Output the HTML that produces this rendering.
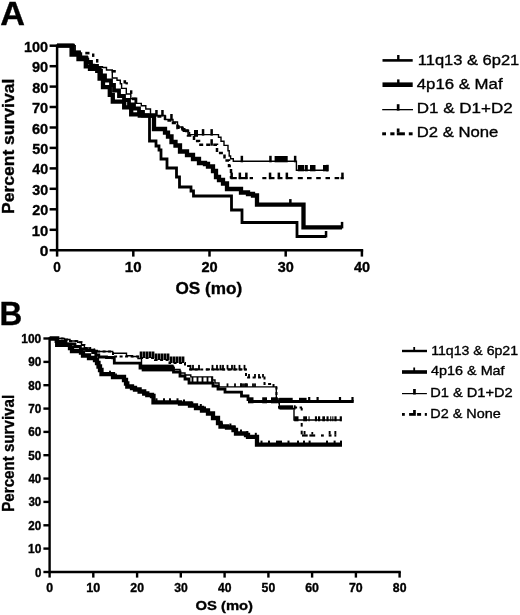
<!DOCTYPE html>
<html><head><meta charset="utf-8"><style>
html,body{margin:0;padding:0;background:#fff;}
svg{display:block;will-change:transform;}
text{font-family:"Liberation Sans",sans-serif;fill:#000;stroke:#000;stroke-width:0.35px;}
</style></head><body>
<svg width="520" height="615" viewBox="0 0 520 615">
<rect width="520" height="615" fill="#fff"/>
<g stroke="#000" stroke-width="2.5" fill="none" stroke-linecap="butt">
<path d="M57.1 44.5 V250.2 H363.2"/>
<path d="M49.6 250.2 H57.1"/><path d="M49.6 229.8 H57.1"/><path d="M49.6 209.3 H57.1"/><path d="M49.6 188.8 H57.1"/><path d="M49.6 168.4 H57.1"/><path d="M49.6 147.9 H57.1"/><path d="M49.6 127.5 H57.1"/><path d="M49.6 107.0 H57.1"/><path d="M49.6 86.6 H57.1"/><path d="M49.6 66.2 H57.1"/><path d="M49.6 45.7 H57.1"/>
<path d="M57.1 250.2 V256.6"/><path d="M133.3 250.2 V256.6"/><path d="M209.5 250.2 V256.6"/><path d="M285.7 250.2 V256.6"/><path d="M361.9 250.2 V256.6"/>
</g>
<path d="M150.4 116.5 H165.0 V120.5 H173.0 V123.0 H177.5 V128.0 H182.5 V131.0 H188.0 V135.6 H194.0 V141.0 H199.0 V144.7 H217.0 V153.0 H224.5 V160.5 H229.0 V166.0 H231.0 V178.4" fill="none" stroke="#000" stroke-width="2.5" stroke-dasharray="4 3"/>
<path d="M57.0 45.7 H75.2 V51.5 H80.0 V53.0 H81.5 V57.0 H87.8 V58.5 H88.5 V63.0 H91.5 V64.5 H94.5 V66.8 H102.5 V67.5 H106.5 V70.0 H112.3 V78.0 H117.0 V80.3 H120.3 V83.7 H121.6 V88.4 H126.3 V94.0 H130.8 V98.7 H135.3 V103.4 H141.3 V105.7 H145.8 V109.0 H150.5 V115.5 H165.0 V119.5 H173.0 V122.0 H177.5 V127.0 H182.5 V130.0 H188.0 V134.6 H218.5 V137.3 H221.0 V141.3 H224.0 V145.4 H228.0 V150.8 H229.2 V156.0 H230.6 V158.8 H233.3 V161.3 H296.4 V170.3 H328.0 V170.3" fill="none" stroke="#000" stroke-width="1.4"/>
<path d="M143.0 115.5 H149.5 V141.0 H156.0 V146.0 H159.0 V150.0 H161.0 V159.0 H167.0 V168.0 H176.5 V177.0 H179.5 V187.0 H191.0 V191.0 H193.5 V196.0 H231.5 V210.0 H242.0 V222.5 H297.0 V236.5 H326.0 V236.5" fill="none" stroke="#000" stroke-width="2.8"/>
<path d="M57.0 45.7 H73.0 V52.5 H79.0 V57.5 H86.0 V62.0 H91.0 V66.0 H97.0 V71.0 H101.0 V75.5 H105.0 V80.5 H111.0 V85.0 H114.0 V90.5 H119.0 V96.0 H124.0 V100.0 H129.0 V104.5 H134.0 V108.5 H139.0 V112.0 H143.0 V115.5 H149.5 V115.5" fill="none" stroke="#000" stroke-width="3.8"/>
<path d="M57.0 45.7 H71.6 V54.5 H78.5 V59.1 H85.8 V66.4 H90.0 V68.9 H99.6 V78.6 H103.0 V87.2 H109.8 V94.8 H112.8 V101.6 H124.2 V107.4 H131.2 V114.3 H139.8 V115.5 H154.0 V129.0 H165.0 V132.7 H168.0 V136.5 H171.5 V142.0 H175.5 V145.5 H180.0 V151.5 H187.0 V155.0 H193.0 V159.0 H199.0 V163.0 H205.0 V164.0 H208.0 V166.5 H213.0 V171.0 H216.0 V177.0 H219.0 V180.0 H223.0 V183.5 H227.0 V189.0 H241.0 V192.5 H248.0 V194.0 H253.0 V195.5 H257.0 V204.6 H303.5 V227.4 H342.0 V227.4" fill="none" stroke="#000" stroke-width="4.3"/>
<g fill="#000">
<rect x="324.8" y="231.0" width="2.5" height="6.5"/>
<rect x="340.8" y="221.9" width="2.5" height="6.5"/>
<rect x="289.1" y="199.1" width="2.5" height="6.5"/>
<rect x="341.2" y="172.6" width="2.5" height="6.5"/>
<rect x="230.4" y="172.6" width="2.5" height="6.5"/>
<rect x="238.6" y="172.6" width="2.5" height="6.5"/>
<rect x="245.1" y="172.6" width="2.5" height="6.5"/>
<rect x="268.8" y="172.6" width="2.5" height="6.5"/>
<rect x="277.6" y="172.6" width="2.5" height="6.5"/>
<rect x="285.6" y="172.6" width="2.5" height="6.5"/>
<rect x="240.6" y="155.8" width="2.5" height="6.5"/>
<rect x="269.2" y="155.8" width="2.5" height="6.5"/>
<rect x="293.9" y="155.8" width="2.5" height="6.5"/>
<rect x="326.2" y="164.8" width="2.5" height="6.5"/>
<rect x="210.4" y="139.2" width="2.5" height="6.5"/>
<rect x="201.8" y="129.1" width="2.5" height="6.5"/>
<rect x="210.4" y="129.1" width="2.5" height="6.5"/>
<rect x="155.2" y="110.0" width="2.5" height="6.5"/>
<rect x="161.2" y="110.0" width="2.5" height="6.5"/>
<rect x="170.2" y="114.0" width="2.5" height="6.5"/>
<rect x="134.8" y="97.5" width="2.5" height="6.5"/>
<rect x="85.3" y="51.8" width="4.2" height="2.6"/>
<rect x="92.0" y="53.5" width="2.4" height="3.4"/>
<rect x="96.0" y="59.0" width="2.4" height="3.6"/>
<rect x="111.6" y="70.0" width="4.2" height="2.6"/>
<rect x="123.5" y="80.2" width="2.6" height="3.4"/>
<rect x="125.5" y="82.2" width="2.4" height="2.2"/>
<rect x="130.0" y="90.3" width="2.4" height="3.6"/>
<rect x="132.0" y="97.4" width="3.4" height="2.8"/>
<rect x="274.6" y="156.0" width="13.1" height="6.3"/>
<rect x="297.8" y="165.0" width="6.5" height="6.3"/>
<rect x="305.0" y="165.0" width="2.8" height="6.3"/>
<rect x="310.0" y="165.0" width="5.5" height="6.3"/>
<rect x="323.0" y="165.0" width="5.2" height="6.3"/>
<rect x="177.8" y="125.2" width="1.9" height="3.8"/>
<rect x="182.6" y="128.0" width="2.9" height="4.0"/>
<rect x="188.4" y="132.0" width="1.9" height="3.8"/>
<rect x="194.0" y="130.0" width="4.0" height="6.8"/>
<rect x="230.7" y="177.0" width="6.1" height="2.2"/>
<rect x="238.8" y="177.0" width="8.7" height="2.2"/>
<rect x="249.6" y="177.0" width="3.4" height="2.2"/>
<rect x="262.3" y="177.0" width="4.1" height="2.2"/>
<rect x="269.0" y="177.0" width="5.5" height="2.2"/>
<rect x="277.8" y="177.0" width="4.7" height="2.2"/>
<rect x="285.9" y="177.0" width="6.7" height="2.2"/>
<rect x="297.8" y="177.0" width="5.0" height="2.2"/>
<rect x="307.0" y="177.0" width="4.6" height="2.2"/>
<rect x="316.2" y="177.0" width="4.6" height="2.2"/>
<rect x="325.5" y="177.0" width="4.5" height="2.2"/>
<rect x="334.6" y="177.0" width="4.6" height="2.2"/>
<rect x="340.5" y="177.0" width="3.0" height="2.2"/>
</g>
<g fill="#000">
<rect x="382.5" y="59.1" width="30.2" height="2.6"/><rect x="397.1" y="55" width="2.4" height="5.5"/>
<rect x="382.5" y="82.4" width="30.2" height="4.6"/><rect x="397.1" y="79.4" width="2.4" height="5"/>
<rect x="382.2" y="109.0" width="30.8" height="1.3"/><rect x="396.8" y="104.2" width="2.7" height="6.4"/>
<rect x="382.2" y="132.3" width="3.8" height="3.0"/><rect x="390.3" y="132.3" width="4.2" height="3.0"/><rect x="396.8" y="132.3" width="8.1" height="3.0"/><rect x="396.8" y="128.5" width="2.7" height="4"/><rect x="408.8" y="132.3" width="3.8" height="3.0"/>
</g>
<g stroke="#000" stroke-width="2.4" fill="none">
<path d="M49.6 337.3 V572 H400.8"/>
<path d="M43.4 572.0 H49.6"/><path d="M43.4 548.6 H49.6"/><path d="M43.4 525.3 H49.6"/><path d="M43.4 501.9 H49.6"/><path d="M43.4 478.6 H49.6"/><path d="M43.4 455.2 H49.6"/><path d="M43.4 431.9 H49.6"/><path d="M43.4 408.6 H49.6"/><path d="M43.4 385.2 H49.6"/><path d="M43.4 361.9 H49.6"/><path d="M43.4 338.5 H49.6"/>
<path d="M49.6 572 V577.6"/><path d="M93.3 572 V577.6"/><path d="M137.1 572 V577.6"/><path d="M180.8 572 V577.6"/><path d="M224.6 572 V577.6"/><path d="M268.4 572 V577.6"/><path d="M312.1 572 V577.6"/><path d="M355.9 572 V577.6"/><path d="M399.6 572 V577.6"/>
</g>
<path d="M49.6 338.5 H64.5 V339.5 H70.0 V341.0 H77.7 V342.2 H81.5 V345.0 H84.4 V348.0 H90.2 V349.5 H94.2 V350.5 H97.3 V351.5 H113.0 V356.5 H141.0 V358.0 H155.0 V360.0 H169.5 V363.0 H185.0 V366.0 H190.0 V369.4 H246.0 V377.5 H264.5 V384.0 H273.5 V387.5 H276.5 V400.0 H279.0 V407.5 H302.0 V407.5" fill="none" stroke="#000" stroke-width="2.0" stroke-dasharray="3 2.5"/>
<path d="M49.6 338.5 H64.5 V339.5 H70.0 V341.0 H77.7 V342.2 H81.5 V345.0 H84.4 V348.0 H90.2 V349.5 H94.2 V350.5 H97.3 V351.5 H112.7 V353.3 H126.5 V355.8 H132.3 V356.5 H138.0 V358.5 H141.5 V366.3 H173.5 V369.5 H180.0 V373.0 H185.0 V375.0 H190.8 V376.9 H212.5 V380.0 H215.0 V383.0 H219.0 V386.9 H276.3 V399.0 H279.3 V408.5 H294.0 V420.0 H341.0 V420.0" fill="none" stroke="#000" stroke-width="1.4"/>
<path d="M49.6 338.5 H56.0 V341.5 H66.0 V344.0 H75.0 V346.5 H80.4 V349.0 H86.5 V350.5 H92.7 V352.5 H95.8 V355.0 H98.8 V357.0 H106.5 V357.5 H112.7 V357.8 H114.3 V363.2 H140.0 V368.2 H173.5 V372.0 H180.0 V376.0 H185.0 V379.0 H189.0 V383.0 H213.0 V386.0 H218.0 V389.0 H225.0 V392.2 H241.5 V396.0 H248.0 V399.5 H251.0 V401.5 H353.7 V401.5" fill="none" stroke="#000" stroke-width="2.8"/>
<path d="M49.6 338.5 H57.2 V344.9 H70.0 V348.0 H72.0 V351.0 H81.0 V352.5 H83.0 V355.5 H89.0 V358.0 H95.0 V360.0 H97.0 V363.0 H98.5 V366.5 H100.0 V370.0 H101.5 V374.2 H113.0 V377.0 H124.0 V380.0 H126.0 V383.5 H127.3 V386.5 H132.0 V388.0 H135.0 V389.5 H139.6 V391.5 H144.2 V393.5 H147.3 V395.0 H152.0 V396.0 H153.5 V402.3 H180.0 V403.5 H190.0 V405.5 H196.0 V408.0 H202.0 V410.5 H208.0 V413.5 H213.0 V418.0 H218.0 V423.0 H220.5 V426.5 H227.0 V427.5 H233.5 V430.0 H236.0 V433.5 H246.0 V435.0 H248.0 V436.8 H257.0 V444.6 H342.0 V444.6" fill="none" stroke="#000" stroke-width="4.3"/>
<g fill="#000">
<rect x="139.7" y="351.5" width="2.7" height="6.5"/>
<rect x="142.7" y="351.5" width="2.7" height="6.5"/>
<rect x="145.7" y="351.5" width="2.7" height="6.5"/>
<rect x="148.7" y="351.5" width="2.7" height="6.5"/>
<rect x="151.7" y="351.5" width="2.7" height="6.5"/>
<rect x="154.7" y="353.5" width="2.7" height="6.5"/>
<rect x="157.7" y="353.5" width="2.7" height="6.5"/>
<rect x="160.7" y="353.5" width="2.7" height="6.5"/>
<rect x="163.7" y="353.5" width="2.7" height="6.5"/>
<rect x="166.7" y="353.5" width="2.7" height="6.5"/>
<rect x="169.7" y="356.5" width="2.7" height="6.5"/>
<rect x="172.7" y="356.5" width="2.7" height="6.5"/>
<rect x="175.7" y="356.5" width="2.7" height="6.5"/>
<rect x="178.7" y="356.5" width="2.7" height="6.5"/>
<rect x="181.7" y="356.5" width="2.7" height="6.5"/>
<rect x="189.6" y="364.9" width="1.8" height="4.5"/>
<rect x="192.1" y="364.9" width="1.8" height="4.5"/>
<rect x="198.1" y="364.9" width="1.8" height="4.5"/>
<rect x="211.6" y="364.9" width="1.8" height="4.5"/>
<rect x="216.1" y="364.9" width="1.8" height="4.5"/>
<rect x="219.6" y="364.9" width="1.8" height="4.5"/>
<rect x="222.1" y="364.9" width="1.8" height="4.5"/>
<rect x="226.6" y="364.9" width="1.8" height="4.5"/>
<rect x="231.1" y="364.9" width="1.8" height="4.5"/>
<rect x="233.6" y="364.9" width="1.8" height="4.5"/>
<rect x="238.6" y="364.9" width="1.8" height="4.5"/>
<rect x="243.6" y="364.9" width="1.8" height="4.5"/>
<rect x="248.1" y="374.0" width="1.8" height="3.5"/>
<rect x="254.1" y="374.0" width="1.8" height="3.5"/>
<rect x="258.1" y="374.0" width="1.8" height="3.5"/>
<rect x="262.1" y="374.0" width="1.8" height="3.5"/>
<rect x="191.6" y="376.9" width="1.8" height="6.1"/>
<rect x="196.6" y="376.9" width="1.8" height="6.1"/>
<rect x="201.6" y="376.9" width="1.8" height="6.1"/>
<rect x="206.6" y="376.9" width="1.8" height="6.1"/>
<rect x="211.1" y="376.9" width="1.8" height="6.1"/>
<rect x="226.6" y="383.4" width="1.8" height="3.5"/>
<rect x="234.1" y="383.4" width="1.8" height="3.5"/>
<rect x="240.1" y="383.4" width="1.8" height="3.5"/>
<rect x="245.1" y="383.4" width="1.8" height="3.5"/>
<rect x="240.1" y="383.4" width="1.8" height="3.5"/>
<rect x="242.1" y="383.4" width="1.8" height="3.5"/>
<rect x="244.1" y="383.4" width="1.8" height="3.5"/>
<rect x="246.1" y="383.4" width="1.8" height="3.5"/>
<rect x="252.1" y="383.4" width="1.8" height="3.5"/>
<rect x="254.1" y="383.4" width="1.8" height="3.5"/>
<rect x="308.1" y="397.0" width="2.2" height="4.5"/>
<rect x="316.5" y="397.0" width="2.2" height="4.5"/>
<rect x="338.9" y="397.0" width="2.2" height="4.5"/>
<rect x="351.4" y="397.0" width="2.2" height="4.5"/>
<rect x="155.5" y="398.3" width="2.0" height="4.0"/>
<rect x="163.0" y="398.3" width="2.0" height="4.0"/>
<rect x="169.0" y="398.3" width="2.0" height="4.0"/>
<rect x="176.5" y="398.3" width="2.0" height="4.0"/>
<rect x="183.0" y="399.5" width="2.0" height="4.0"/>
<rect x="191.3" y="401.5" width="2.0" height="4.0"/>
<rect x="199.8" y="404.0" width="2.0" height="4.0"/>
<rect x="204.0" y="406.5" width="2.0" height="4.0"/>
<rect x="212.5" y="414.0" width="2.0" height="4.0"/>
<rect x="221.0" y="422.5" width="2.0" height="4.0"/>
<rect x="229.4" y="423.5" width="2.0" height="4.0"/>
<rect x="233.6" y="426.0" width="2.0" height="4.0"/>
<rect x="240.0" y="429.5" width="2.0" height="4.0"/>
<rect x="246.3" y="431.0" width="2.0" height="4.0"/>
<rect x="254.8" y="432.8" width="2.0" height="4.0"/>
<rect x="260.5" y="440.6" width="2.0" height="4.0"/>
<rect x="268.0" y="440.6" width="2.0" height="4.0"/>
<rect x="276.0" y="440.6" width="2.0" height="4.0"/>
<rect x="278.0" y="440.6" width="2.0" height="4.0"/>
<rect x="280.0" y="440.6" width="2.0" height="4.0"/>
<rect x="287.5" y="440.6" width="2.0" height="4.0"/>
<rect x="297.0" y="440.6" width="2.0" height="4.0"/>
<rect x="303.0" y="440.6" width="2.0" height="4.0"/>
<rect x="308.6" y="440.6" width="2.0" height="4.0"/>
<rect x="326.0" y="440.6" width="2.0" height="4.0"/>
<rect x="333.6" y="440.6" width="2.0" height="4.0"/>
<rect x="340.0" y="440.6" width="2.0" height="4.0"/>
<rect x="109.1" y="370.7" width="1.8" height="3.5"/>
<rect x="115.1" y="373.5" width="1.8" height="3.5"/>
<rect x="294.2" y="416.3" width="4.3" height="5.0"/>
<rect x="303.2" y="416.3" width="3.8" height="5.0"/>
<rect x="308.5" y="416.3" width="1.1" height="5.0"/>
<rect x="314.9" y="416.3" width="2.1" height="5.0"/>
<rect x="318.0" y="416.3" width="2.2" height="5.0"/>
<rect x="322.3" y="416.3" width="2.7" height="5.0"/>
<rect x="326.5" y="416.3" width="2.1" height="5.0"/>
<rect x="330.2" y="416.3" width="1.1" height="5.0"/>
<rect x="332.3" y="416.3" width="1.1" height="5.0"/>
<rect x="334.4" y="416.3" width="2.2" height="5.0"/>
<rect x="339.7" y="416.3" width="2.2" height="5.0"/>
<rect x="279.7" y="405.3" width="13.5" height="4.2"/>
<rect x="294.0" y="405.3" width="1.6" height="4.2"/>
<rect x="279.2" y="397.8" width="13.5" height="4.0"/>
<rect x="299.0" y="397.8" width="7.6" height="4.0"/>
<rect x="190.0" y="368.4" width="10.0" height="2.0"/>
<rect x="206.0" y="368.4" width="4.0" height="2.0"/>
<rect x="212.5" y="368.4" width="5.0" height="2.0"/>
<rect x="220.0" y="368.4" width="5.0" height="2.0"/>
<rect x="227.5" y="368.4" width="5.0" height="2.0"/>
<rect x="233.8" y="368.4" width="3.7" height="2.0"/>
<rect x="238.8" y="368.4" width="3.7" height="2.0"/>
<rect x="243.8" y="368.4" width="2.5" height="2.0"/>
<rect x="248.0" y="397.3" width="5.5" height="6.0"/>
<rect x="262.2" y="397.3" width="4.8" height="6.0"/>
<rect x="271.0" y="397.3" width="6.7" height="6.0"/>
<rect x="141.7" y="364.6" width="31.8" height="6.8"/>
<rect x="300.7" y="407.8" width="2.0" height="2.7"/>
<rect x="300.7" y="423.0" width="2.0" height="3.6"/>
<rect x="300.7" y="430.7" width="2.0" height="3.7"/>
<rect x="302.0" y="434.4" width="5.7" height="2.2"/>
<rect x="309.4" y="434.4" width="5.8" height="2.2"/>
<rect x="321.0" y="434.4" width="2.8" height="2.2"/>
<rect x="328.7" y="434.4" width="2.8" height="2.2"/>
<rect x="334.4" y="434.4" width="1.9" height="2.2"/>
<rect x="303.6" y="431.0" width="1.9" height="3.5"/>
<rect x="311.4" y="432.0" width="1.8" height="2.5"/>
<rect x="328.7" y="431.0" width="1.9" height="3.5"/>
<rect x="334.4" y="431.0" width="1.9" height="3.5"/>

</g>
<g fill="#000">
<rect x="402" y="349.8" width="25" height="2.4"/><rect x="413.3" y="347" width="1.8" height="4"/>
<rect x="402" y="370.2" width="25" height="3.6"/><rect x="413.3" y="367.5" width="1.8" height="4"/>
<rect x="402" y="393.0" width="24.9" height="1.2"/><rect x="413.1" y="389" width="2.7" height="5.5"/>
<rect x="402" y="413" width="2.8" height="2.8"/><rect x="409.1" y="413" width="6.7" height="2.8"/><rect x="413.1" y="410" width="2.7" height="3.5"/><rect x="417.1" y="413" width="4" height="2.8"/><rect x="424.8" y="413" width="2.1" height="2.8"/>
</g>
<text x="0.37" y="24.50" font-size="32.75" font-weight="bold" textLength="24.73" lengthAdjust="spacingAndGlyphs">A</text>
<text x="-0.50" y="325.40" font-size="32.61" font-weight="bold" textLength="22.73" lengthAdjust="spacingAndGlyphs">B</text>
<text x="39.68" y="256.20" font-size="15.43" font-weight="bold" textLength="8.64" lengthAdjust="spacingAndGlyphs">0</text>
<text x="31.71" y="235.75" font-size="15.43" font-weight="bold" textLength="16.52" lengthAdjust="spacingAndGlyphs">10</text>
<text x="32.17" y="215.30" font-size="15.43" font-weight="bold" textLength="16.04" lengthAdjust="spacingAndGlyphs">20</text>
<text x="32.31" y="194.85" font-size="15.43" font-weight="bold" textLength="15.89" lengthAdjust="spacingAndGlyphs">30</text>
<text x="32.31" y="174.40" font-size="15.43" font-weight="bold" textLength="15.89" lengthAdjust="spacingAndGlyphs">40</text>
<text x="32.17" y="153.95" font-size="15.43" font-weight="bold" textLength="16.04" lengthAdjust="spacingAndGlyphs">50</text>
<text x="32.02" y="133.50" font-size="15.43" font-weight="bold" textLength="16.20" lengthAdjust="spacingAndGlyphs">60</text>
<text x="32.02" y="113.05" font-size="15.43" font-weight="bold" textLength="16.20" lengthAdjust="spacingAndGlyphs">70</text>
<text x="32.17" y="92.60" font-size="15.43" font-weight="bold" textLength="16.04" lengthAdjust="spacingAndGlyphs">80</text>
<text x="32.02" y="72.15" font-size="15.43" font-weight="bold" textLength="16.20" lengthAdjust="spacingAndGlyphs">90</text>
<text x="24.03" y="51.70" font-size="15.43" font-weight="bold" textLength="24.13" lengthAdjust="spacingAndGlyphs">100</text>
<text x="53.36" y="271.80" font-size="14.43" font-weight="bold" textLength="7.57" lengthAdjust="spacingAndGlyphs">0</text>
<text x="124.80" y="271.80" font-size="14.43" font-weight="bold" textLength="16.74" lengthAdjust="spacingAndGlyphs">10</text>
<text x="201.46" y="271.80" font-size="14.43" font-weight="bold" textLength="16.26" lengthAdjust="spacingAndGlyphs">20</text>
<text x="277.81" y="271.80" font-size="14.43" font-weight="bold" textLength="16.10" lengthAdjust="spacingAndGlyphs">30</text>
<text x="354.01" y="271.80" font-size="14.43" font-weight="bold" textLength="16.10" lengthAdjust="spacingAndGlyphs">40</text>
<text x="175.41" y="294.40" font-size="17.26" font-weight="bold" textLength="66.83" lengthAdjust="spacingAndGlyphs">OS (mo)</text>
<text transform="translate(14.40,214.03) rotate(-90)" x="0" y="0" font-size="17.12" font-weight="bold" textLength="135.37" lengthAdjust="spacingAndGlyphs">Percent survival</text>
<text x="417.78" y="64.70" font-size="15.10" font-weight="normal" textLength="101.51" lengthAdjust="spacingAndGlyphs">11q13 &amp; 6p21</text>
<text x="416.76" y="88.80" font-size="15.10" font-weight="normal" textLength="85.84" lengthAdjust="spacingAndGlyphs">4p16 &amp; Maf</text>
<text x="416.74" y="113.30" font-size="15.10" font-weight="normal" textLength="95.94" lengthAdjust="spacingAndGlyphs">D1 &amp; D1+D2</text>
<text x="416.77" y="137.20" font-size="15.10" font-weight="normal" textLength="81.53" lengthAdjust="spacingAndGlyphs">D2 &amp; None</text>
<text x="34.94" y="576.50" font-size="12.14" font-weight="bold" textLength="6.39" lengthAdjust="spacingAndGlyphs">0</text>
<text x="27.98" y="553.15" font-size="12.14" font-weight="bold" textLength="13.33" lengthAdjust="spacingAndGlyphs">10</text>
<text x="28.35" y="529.80" font-size="12.14" font-weight="bold" textLength="12.94" lengthAdjust="spacingAndGlyphs">20</text>
<text x="28.47" y="506.45" font-size="12.14" font-weight="bold" textLength="12.82" lengthAdjust="spacingAndGlyphs">30</text>
<text x="28.47" y="483.10" font-size="12.14" font-weight="bold" textLength="12.82" lengthAdjust="spacingAndGlyphs">40</text>
<text x="28.35" y="459.75" font-size="12.14" font-weight="bold" textLength="12.94" lengthAdjust="spacingAndGlyphs">50</text>
<text x="28.23" y="436.40" font-size="12.14" font-weight="bold" textLength="13.07" lengthAdjust="spacingAndGlyphs">60</text>
<text x="28.23" y="413.05" font-size="12.14" font-weight="bold" textLength="13.07" lengthAdjust="spacingAndGlyphs">70</text>
<text x="28.35" y="389.70" font-size="12.14" font-weight="bold" textLength="12.94" lengthAdjust="spacingAndGlyphs">80</text>
<text x="28.23" y="366.35" font-size="12.14" font-weight="bold" textLength="13.07" lengthAdjust="spacingAndGlyphs">90</text>
<text x="21.28" y="343.00" font-size="12.14" font-weight="bold" textLength="19.98" lengthAdjust="spacingAndGlyphs">100</text>
<text x="46.21" y="591.60" font-size="12.57" font-weight="bold" textLength="6.86" lengthAdjust="spacingAndGlyphs">0</text>
<text x="86.22" y="591.60" font-size="12.57" font-weight="bold" textLength="14.04" lengthAdjust="spacingAndGlyphs">10</text>
<text x="130.36" y="591.60" font-size="12.57" font-weight="bold" textLength="13.64" lengthAdjust="spacingAndGlyphs">20</text>
<text x="174.23" y="591.60" font-size="12.57" font-weight="bold" textLength="13.51" lengthAdjust="spacingAndGlyphs">30</text>
<text x="217.98" y="591.60" font-size="12.57" font-weight="bold" textLength="13.51" lengthAdjust="spacingAndGlyphs">40</text>
<text x="261.61" y="591.60" font-size="12.57" font-weight="bold" textLength="13.64" lengthAdjust="spacingAndGlyphs">50</text>
<text x="305.23" y="591.60" font-size="12.57" font-weight="bold" textLength="13.77" lengthAdjust="spacingAndGlyphs">60</text>
<text x="348.98" y="591.60" font-size="12.57" font-weight="bold" textLength="13.77" lengthAdjust="spacingAndGlyphs">70</text>
<text x="392.86" y="591.60" font-size="12.57" font-weight="bold" textLength="13.64" lengthAdjust="spacingAndGlyphs">80</text>
<text x="195.51" y="609.85" font-size="12.95" font-weight="bold" textLength="57.51" lengthAdjust="spacingAndGlyphs">OS (mo)</text>
<text transform="translate(13.70,511.76) rotate(-90)" x="0" y="0" font-size="15.75" font-weight="bold" textLength="116.92" lengthAdjust="spacingAndGlyphs">Percent survival</text>
<text x="431.17" y="355.00" font-size="13.00" font-weight="normal" textLength="86.89" lengthAdjust="spacingAndGlyphs">11q13 &amp; 6p21</text>
<text x="431.11" y="375.30" font-size="13.00" font-weight="normal" textLength="73.51" lengthAdjust="spacingAndGlyphs">4p16 &amp; Maf</text>
<text x="430.23" y="397.40" font-size="13.00" font-weight="normal" textLength="82.42" lengthAdjust="spacingAndGlyphs">D1 &amp; D1+D2</text>
<text x="430.25" y="417.80" font-size="13.00" font-weight="normal" textLength="70.45" lengthAdjust="spacingAndGlyphs">D2 &amp; None</text>
</svg>
</body></html>
